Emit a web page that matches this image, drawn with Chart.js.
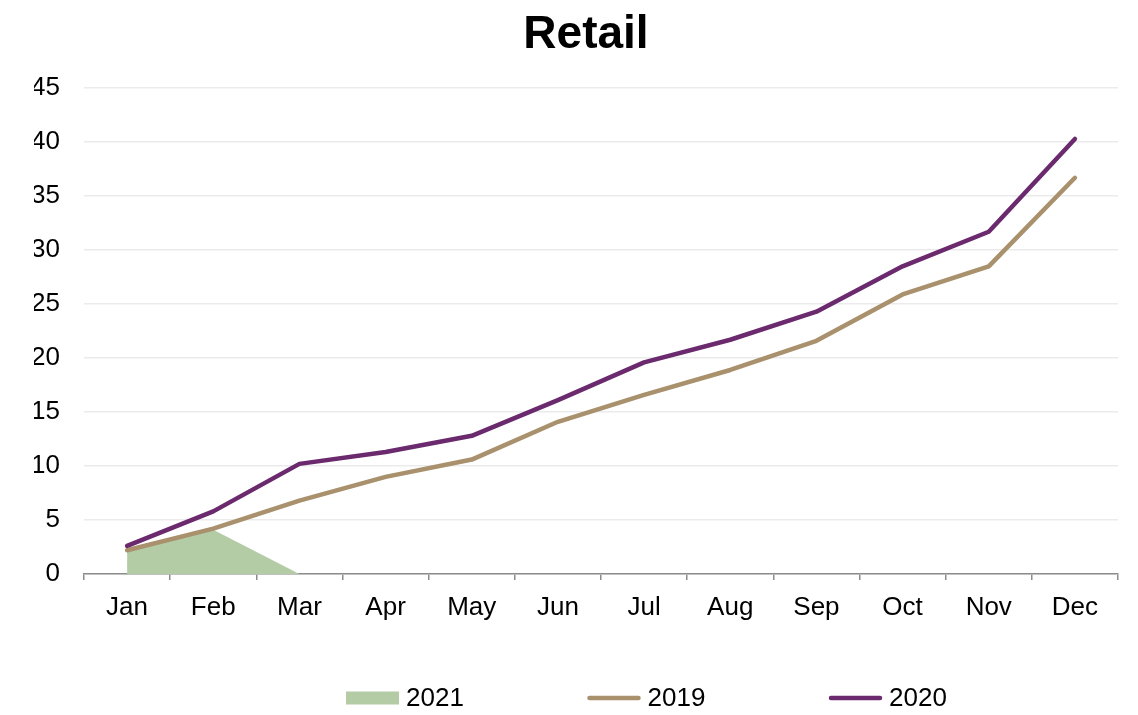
<!DOCTYPE html>
<html>
<head>
<meta charset="utf-8">
<title>Retail</title>
<script src="https://cdn.jsdelivr.net/npm/chart.js@4.4.1/dist/chart.umd.min.js"></script>
<style>
  html, body { margin: 0; padding: 0; background: #ffffff; }
  #wrap { width: 1138px; height: 715px; position: relative; }
</style>
</head>
<body>
<div id="wrap"><canvas id="retail"></canvas></div>
<script>
// Monthly cumulative retail figures
const months = ['Jan', 'Feb', 'Mar', 'Apr', 'May', 'Jun', 'Jul', 'Aug', 'Sep', 'Oct', 'Nov', 'Dec'];
const retail2021 = [2.2, 4.1, 0];
const retail2019 = [2.2, 4.2, 6.8, 9.0, 10.6, 14.1, 16.6, 18.9, 21.6, 25.9, 28.5, 36.7];
const retail2020 = [2.6, 5.8, 10.2, 11.3, 12.8, 16.1, 19.6, 21.7, 24.3, 28.5, 31.7, 40.3];
const yTicks = [0, 5, 10, 15, 20, 25, 30, 35, 40, 45];

const FONT = "'Liberation Sans', Arial, Helvetica, sans-serif";
const GREEN = '#b3cca6';
const TAN = '#a8916c';
const PURPLE = '#6b2a6e';

// Nudge the title block so it sits a little right of the canvas centre
const titleShift = {
  id: 'titleShift',
  afterLayout(chart, args, opts) {
    const t = chart.titleBlock;
    if (t) { t.left += opts.dx * 2; }
  }
};

// Legend drawn along the bottom: a filled swatch for the area series, a stroke for the lines
const bottomLegend = {
  id: 'bottomLegend',
  afterDraw(chart, args, opts) {
    const ctx = chart.ctx;
    ctx.save();
    ctx.font = opts.fontSize + 'px ' + FONT;
    ctx.textBaseline = 'middle';
    ctx.textAlign = 'left';
    chart.data.datasets.forEach((ds, i) => {
      const x0 = opts.left + i * opts.pitch;
      const y = opts.y;
      if (ds.fill) {
        ctx.fillStyle = ds.backgroundColor;
        ctx.fillRect(x0, y - opts.boxHeight / 2, opts.boxWidth, opts.boxHeight);
      } else {
        ctx.strokeStyle = ds.borderColor;
        ctx.lineWidth = ds.borderWidth;
        ctx.lineCap = 'round';
        ctx.beginPath();
        ctx.moveTo(x0 + 2, y);
        ctx.lineTo(x0 + opts.boxWidth - 2, y);
        ctx.stroke();
      }
      ctx.fillStyle = '#000000';
      ctx.fillText(ds.label, x0 + opts.boxWidth + opts.gap, y + 1);
    });
    ctx.restore();
  }
};

new Chart(document.getElementById('retail'), {
  type: 'line',
  data: {
    labels: months,
    datasets: [
      {
        label: '2021',
        data: retail2021,
        fill: 'origin',
        backgroundColor: GREEN,
        borderColor: GREEN,
        borderWidth: 0,
        pointRadius: 0,
        tension: 0,
        order: 3
      },
      {
        label: '2019',
        data: retail2019,
        fill: false,
        borderColor: TAN,
        backgroundColor: TAN,
        borderWidth: 4.5,
        borderJoinStyle: 'round',
        borderCapStyle: 'round',
        pointRadius: 0,
        tension: 0,
        order: 2
      },
      {
        label: '2020',
        data: retail2020,
        fill: false,
        borderColor: PURPLE,
        backgroundColor: PURPLE,
        borderWidth: 4.5,
        borderJoinStyle: 'round',
        borderCapStyle: 'round',
        pointRadius: 0,
        tension: 0,
        order: 1
      }
    ]
  },
  options: {
    responsive: true,
    maintainAspectRatio: false,
    animation: false,
    layout: { padding: { left: 34, right: 20, top: 0, bottom: 95 } },
    plugins: {
      legend: { display: false },
      tooltip: { enabled: false },
      title: {
        display: true,
        text: 'Retail',
        color: '#000000',
        font: { family: FONT, size: 46, weight: 'bold' },
        padding: { top: 8, bottom: 25 }
      },
      titleShift: { dx: 10 },
      bottomLegend: { left: 346, pitch: 241.5, y: 698, boxWidth: 53, boxHeight: 13, gap: 7, fontSize: 26 }
    },
    scales: {
      x: {
        type: 'category',
        offset: true,
        grid: {
          display: true,
          offset: true,
          drawOnChartArea: false,
          drawTicks: true,
          tickLength: 6,
          color: '#8c8c8c',
          lineWidth: 1.5
        },
        border: { display: true, color: '#8c8c8c', width: 1.5 },
        ticks: {
          color: '#000000',
          font: { family: FONT, size: 26 },
          padding: 12,
          maxRotation: 0,
          autoSkip: false
        },
        afterFit(scale) { scale.height = 46; }
      },
      y: {
        min: 0,
        max: 45,
        afterBuildTicks(scale) { scale.ticks = yTicks.map(v => ({ value: v })); },
        grid: { color: '#ebebeb', lineWidth: 1.5, drawTicks: false },
        border: { display: false },
        ticks: {
          color: '#000000',
          font: { family: FONT, size: 26 },
          padding: 24
        },
        afterFit(scale) { scale.width = 50; }
      }
    }
  },
  plugins: [titleShift, bottomLegend]
});
</script>
</body>
</html>
